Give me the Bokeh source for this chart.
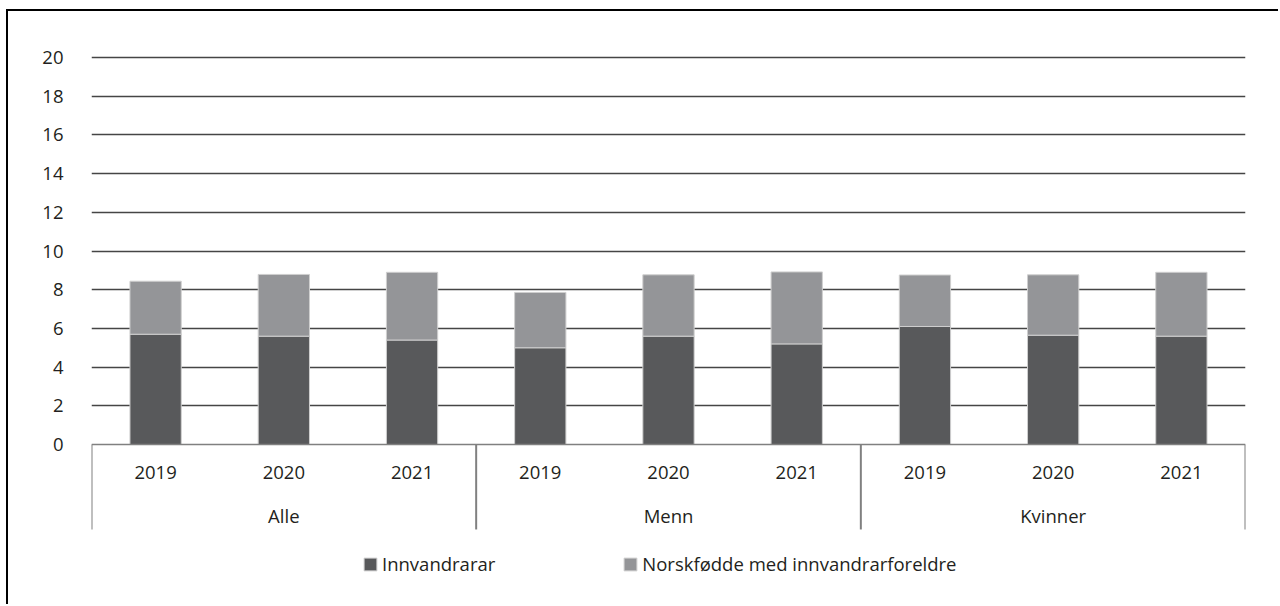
from bokeh.plotting import figure
from bokeh.models import (FactorRange, ColumnDataSource, FixedTicker, Legend,
                          LegendItem, Range1d)
from bokeh.core.properties import value
from bokeh.embed import file_html
from bokeh.resources import INLINE

# ---- data ----
groups = ["Alle", "Menn", "Kvinner"]
years = ["2019", "2020", "2021"]
innvandrarar = [5.7, 5.6, 5.4, 5.0, 5.6, 5.2, 6.1, 5.65, 5.6]
norskfodde = [2.74, 3.19, 3.5, 2.86, 3.17, 3.72, 2.66, 3.12, 3.3]
series_names = ["Innvandrarar", "Norskfødde med innvandrarforeldre"]
y_ticks = [0, 2, 4, 6, 8, 10, 12, 14, 16, 18, 20]

# ---- style ----
FONT = "Open Sans"
FS = "18.5px"
TXT = "#231f20"
colors = ["#58595b", "#949598"]
W, H = 1272, 595

factors = [(g, y) for g in groups for y in years]
x_range = FactorRange(*factors, factor_padding=0, group_padding=0,
                      subgroup_padding=0, range_padding=0)
PX_PER_UNIT = 19.35
top_px = 17
y_top = 21.5
y_bottom = y_top - (H - top_px) / PX_PER_UNIT
box_bottom = -4.39

p = figure(x_range=x_range, y_range=Range1d(y_bottom, y_top), width=W, height=H,
           output_backend="svg", toolbar_location=None,
           min_border_left=83, min_border_right=35, min_border_top=top_px,
           min_border_bottom=0)
p.outline_line_color = None
p.background_fill_color = "white"
p.border_fill_color = "white"
p.styles = {"border-top": "2px solid black", "border-left": "2px solid black",
            "margin-left": "6px", "margin-top": "9px"}

src = ColumnDataSource(dict(x=factors, a=innvandrarar, b=norskfodde))
rends = p.vbar_stack(["a", "b"], x="x", width=0.4, source=src, color=colors,
                     line_color="#cfcfcf", line_width=1)

# axes
p.xaxis.visible = False
p.xgrid.visible = False
ax = p.yaxis[0]
ax.ticker = FixedTicker(ticks=y_ticks)
ax.axis_line_color = None
ax.major_tick_line_color = None
ax.minor_tick_line_color = None
ax.major_tick_out = 0
ax.major_label_standoff = 28
ax.major_label_text_font = FONT
ax.major_label_text_font_size = FS
ax.major_label_text_color = TXT
p.ygrid.ticker = FixedTicker(ticks=y_ticks[1:])
p.ygrid.grid_line_color = "#454545"
p.ygrid.grid_line_width = 1.5

# category box
n = len(years)
bounds = [i * n for i in range(len(groups) + 1)]
p.segment(x0=bounds, y0=[0] * len(bounds), x1=bounds, y1=[box_bottom] * len(bounds),
          line_color="#808080", line_width=2)
p.segment(x0=[bounds[0]], y0=[0], x1=[bounds[-1]], y1=[0],
          line_color="#808080", line_width=1.5)

# category labels
p.text(x=factors, y=[-1.45] * len(factors), text=[f[1] for f in factors],
       text_align="center", text_baseline="middle", text_font=value(FONT),
       text_font_size=FS, text_color=TXT)
p.text(x=[(g, years[1]) for g in groups], y=[-3.67] * len(groups), text=groups,
       text_align="center", text_baseline="middle", text_font=value(FONT),
       text_font_size=FS, text_color=TXT)

# legend
legend = Legend(items=[LegendItem(label=series_names[i], renderers=[rends[i]])
                       for i in range(2)],
                orientation="horizontal", location=(271, 30),
                glyph_width=16, glyph_height=16, label_standoff=4, spacing=127,
                padding=0, margin=0, border_line_color=None,
                background_fill_alpha=0,
                label_text_font=FONT, label_text_font_size=FS,
                label_text_color=TXT)
p.add_layout(legend, "center")

open("out.html", "w").write(file_html(p, INLINE))
